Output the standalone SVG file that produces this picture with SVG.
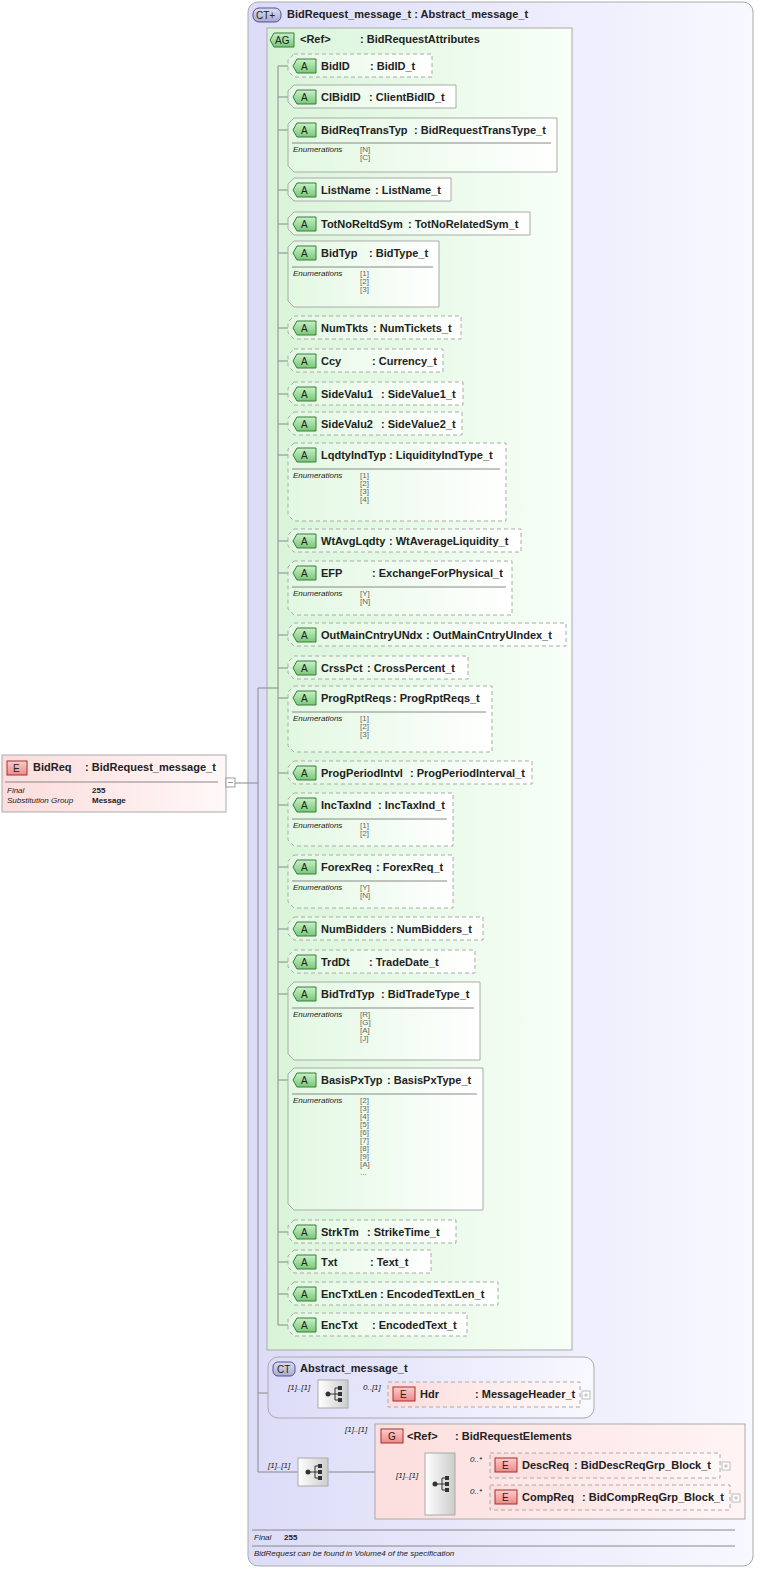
<svg xmlns="http://www.w3.org/2000/svg" width="761" height="1572" viewBox="0 0 761 1572">
<style>
text{font-family:"Liberation Sans",Arial,sans-serif;fill:#222}
.n{font-size:11px;font-weight:bold}
.s{font-size:8px;font-style:italic}
.v{font-size:8px;fill:#666}
.b{font-size:8px;font-weight:bold}
.at{fill:url(#gAt);stroke:#aaa;stroke-width:1}
.dash{stroke-dasharray:4,3;fill:url(#gAt)}
.sep{stroke:#888;stroke-width:1}
.ln{stroke:#888;stroke-width:1;fill:none}
.bdgA{fill:url(#gBA);stroke:#3a7a3a}
.bdgE{fill:url(#gBE);stroke:#a03030}
.bdgC{fill:url(#gBC);stroke:#5050a0}
.el{fill:url(#gEl);stroke:#aaa}
.seq{fill:url(#gSq);stroke:#aaa}
</style>
<defs>
<linearGradient id="gCT" x1="0" x2="1"><stop offset="0" stop-color="#dcdcf8"/><stop offset="1" stop-color="#f8f8ff"/></linearGradient>
<linearGradient id="gAG" x1="0" x2="1"><stop offset="0" stop-color="#d8f4d8"/><stop offset="1" stop-color="#f8fff8"/></linearGradient>
<linearGradient id="gAt" x1="0" x2="1"><stop offset="0" stop-color="#e2f8e2"/><stop offset="1" stop-color="#ffffff"/></linearGradient>
<linearGradient id="gEl" x1="0" x2="1"><stop offset="0" stop-color="#fcdcdc"/><stop offset="1" stop-color="#fff8f8"/></linearGradient>
<linearGradient id="gGr" x1="0" x2="1"><stop offset="0" stop-color="#fcdede"/><stop offset="1" stop-color="#fff4f4"/></linearGradient>
<linearGradient id="gBA" x1="0" x2="0" y1="0" y2="1"><stop offset="0" stop-color="#c8f0c8"/><stop offset="1" stop-color="#78c878"/></linearGradient>
<linearGradient id="gBE" x1="0" x2="0" y1="0" y2="1"><stop offset="0" stop-color="#fcc"/><stop offset="1" stop-color="#e88"/></linearGradient>
<linearGradient id="gBC" x1="0" x2="0" y1="0" y2="1"><stop offset="0" stop-color="#dde"/><stop offset="1" stop-color="#aac"/></linearGradient>
<linearGradient id="gSq" x1="0" x2="1"><stop offset="0" stop-color="#fff"/><stop offset="1" stop-color="#ccc"/></linearGradient>
<g id="seqI"><circle cx="7" cy="14" r="2.5" fill="#333"/><path d="M9 14H14M14 8V20M14 8H17M14 14H17M14 20H17" stroke="#333" fill="none"/><rect x="17" y="6" width="4" height="4" fill="#333"/><rect x="17" y="12" width="4" height="4" fill="#333"/><rect x="17" y="18" width="4" height="4" fill="#333"/></g>
</defs>

<g id="ct-main">
<rect x="248" y="2" width="505" height="1564" rx="10" fill="url(#gCT)" stroke="#aaa"/>
<rect x="253" y="8" width="28" height="14" rx="6" class="bdgC"/><text x="256" y="19" font-size="10">CT+</text>
<text x="287" y="18" class="n">BidRequest_message_t : Abstract_message_t</text>
<line x1="252" y1="1530" x2="735" y2="1530" class="sep"/>
<text x="254" y="1540" class="s">Final</text><text x="284" y="1540" class="b">255</text>
<line x1="252" y1="1546" x2="735" y2="1546" class="sep"/>
<text x="254" y="1556" class="s">BidRequest can be found in Volume4 of the specification</text>
</g>

<g id="ag">
<rect x="267" y="28" width="305" height="1322" fill="url(#gAG)" stroke="#aaa"/>
<path d="M274 33H294V47H274L270 40Z" class="bdgA"/><text x="275" y="44" font-size="10">AG</text>
<text x="300" y="43" class="n">&lt;Ref&gt;</text><text x="360" y="43" class="n">: BidRequestAttributes</text>
</g>

<g id="connectors" class="ln">
<line x1="235" y1="783" x2="258" y2="783"/>
<line x1="258" y1="688" x2="258" y2="1472"/>
<line x1="258" y1="688" x2="278" y2="688"/>
<line x1="278" y1="66" x2="278" y2="1325"/>
<path d="M278 66H288M278 97H288M278 130H288M278 190H288M278 224H288M278 253H288M278 328H288M278 361H288M278 394H288M278 424H288M278 455H288M278 541H288M278 573H288M278 635H288M278 668H288M278 698H288M278 773H288M278 805H288M278 867H288M278 929H288M278 962H288M278 994H288M278 1080H288M278 1232H288M278 1262H288M278 1294H288M278 1325H288"/>
<line x1="258" y1="1393" x2="318" y2="1393"/>
<line x1="348" y1="1393" x2="388" y2="1393"/>
<line x1="258" y1="1472" x2="298" y2="1472"/>
<line x1="328" y1="1472" x2="375" y2="1472"/>
<line x1="375" y1="1483" x2="425" y2="1483"/>
<line x1="455" y1="1466" x2="490" y2="1466"/>
<line x1="455" y1="1498" x2="490" y2="1498"/>
</g>

<g id="bidreq">
<rect x="2" y="755" width="224" height="57" class="el" fill="url(#gEl)"/>
<rect x="7" y="761" width="20" height="14" class="bdgE"/><text x="13" y="772" font-size="10">E</text>
<text x="33" y="771" class="n">BidReq</text><text x="85" y="771" class="n">: BidRequest_message_t</text>
<line x1="5" y1="782" x2="218" y2="782" class="sep"/>
<text x="7" y="793" class="s">Final</text><text x="92" y="793" class="b">255</text>
<text x="7" y="803" class="s">Substitution Group</text><text x="92" y="803" class="b">Message</text>
<rect x="226" y="778" width="9" height="9" fill="#fff" stroke="#999"/><line x1="228" y1="782.5" x2="233" y2="782.5" stroke="#999"/>
</g>

<g id="a1"><path d="M294 54H432V77H294L288 71V60Z" class="at dash"/><path d="M297 59H316V73H297L293 66Z" class="bdgA"/><text x="301" y="70" font-size="10">A</text><text x="321" y="70" class="n">BidID</text><text x="370" y="70" class="n">: BidID_t</text></g>
<g id="a2"><path d="M294 85H456V108H294L288 102V91Z" class="at"/><path d="M297 90H316V104H297L293 97Z" class="bdgA"/><text x="301" y="101" font-size="10">A</text><text x="321" y="101" class="n">ClBidID</text><text x="369" y="101" class="n">: ClientBidID_t</text></g>
<g id="a3"><path d="M294 118H557V172H294L288 166V124Z" class="at"/><path d="M297 123H316V137H297L293 130Z" class="bdgA"/><text x="301" y="134" font-size="10">A</text><text x="321" y="134" class="n">BidReqTransTyp</text><text x="414" y="134" class="n">: BidRequestTransType_t</text><line x1="292" y1="143" x2="551" y2="143" class="sep"/><text x="293" y="152" class="s">Enumerations</text><text x="360" y="152" class="v">[N]</text><text x="360" y="160" class="v">[C]</text></g>
<g id="a4"><path d="M294 178H451V201H294L288 195V184Z" class="at"/><path d="M297 183H316V197H297L293 190Z" class="bdgA"/><text x="301" y="194" font-size="10">A</text><text x="321" y="194" class="n">ListName</text><text x="375" y="194" class="n">: ListName_t</text></g>
<g id="a5"><path d="M294 212H530V235H294L288 229V218Z" class="at"/><path d="M297 217H316V231H297L293 224Z" class="bdgA"/><text x="301" y="228" font-size="10">A</text><text x="321" y="228" class="n">TotNoReltdSym</text><text x="408" y="228" class="n">: TotNoRelatedSym_t</text></g>
<g id="a6"><path d="M294 241H439V307H294L288 301V247Z" class="at"/><path d="M297 246H316V260H297L293 253Z" class="bdgA"/><text x="301" y="257" font-size="10">A</text><text x="321" y="257" class="n">BidTyp</text><text x="369" y="257" class="n">: BidType_t</text><line x1="292" y1="267" x2="433" y2="267" class="sep"/><text x="293" y="276" class="s">Enumerations</text><text x="360" y="276" class="v">[1]</text><text x="360" y="284" class="v">[2]</text><text x="360" y="292" class="v">[3]</text></g>
<g id="a7"><path d="M294 316H461V339H294L288 333V322Z" class="at dash"/><path d="M297 321H316V335H297L293 328Z" class="bdgA"/><text x="301" y="332" font-size="10">A</text><text x="321" y="332" class="n">NumTkts</text><text x="373" y="332" class="n">: NumTickets_t</text></g>
<g id="a8"><path d="M294 349H443V372H294L288 366V355Z" class="at dash"/><path d="M297 354H316V368H297L293 361Z" class="bdgA"/><text x="301" y="365" font-size="10">A</text><text x="321" y="365" class="n">Ccy</text><text x="372" y="365" class="n">: Currency_t</text></g>
<g id="a9"><path d="M294 382H463V405H294L288 399V388Z" class="at dash"/><path d="M297 387H316V401H297L293 394Z" class="bdgA"/><text x="301" y="398" font-size="10">A</text><text x="321" y="398" class="n">SideValu1</text><text x="381" y="398" class="n">: SideValue1_t</text></g>
<g id="a10"><path d="M294 412H462V435H294L288 429V418Z" class="at dash"/><path d="M297 417H316V431H297L293 424Z" class="bdgA"/><text x="301" y="428" font-size="10">A</text><text x="321" y="428" class="n">SideValu2</text><text x="381" y="428" class="n">: SideValue2_t</text></g>
<g id="a11"><path d="M294 443H506V521H294L288 515V449Z" class="at dash"/><path d="M297 448H316V462H297L293 455Z" class="bdgA"/><text x="301" y="459" font-size="10">A</text><text x="321" y="459" class="n">LqdtyIndTyp</text><text x="389" y="459" class="n">: LiquidityIndType_t</text><line x1="292" y1="469" x2="500" y2="469" class="sep"/><text x="293" y="478" class="s">Enumerations</text><text x="360" y="478" class="v">[1]</text><text x="360" y="486" class="v">[2]</text><text x="360" y="494" class="v">[3]</text><text x="360" y="502" class="v">[4]</text></g>
<g id="a12"><path d="M294 529H521V552H294L288 546V535Z" class="at dash"/><path d="M297 534H316V548H297L293 541Z" class="bdgA"/><text x="301" y="545" font-size="10">A</text><text x="321" y="545" class="n">WtAvgLqdty</text><text x="389" y="545" class="n">: WtAverageLiquidity_t</text></g>
<g id="a13"><path d="M294 561H512V615H294L288 609V567Z" class="at dash"/><path d="M297 566H316V580H297L293 573Z" class="bdgA"/><text x="301" y="577" font-size="10">A</text><text x="321" y="577" class="n">EFP</text><text x="372" y="577" class="n">: ExchangeForPhysical_t</text><line x1="292" y1="587" x2="506" y2="587" class="sep"/><text x="293" y="596" class="s">Enumerations</text><text x="360" y="596" class="v">[Y]</text><text x="360" y="604" class="v">[N]</text></g>
<g id="a14"><path d="M294 623H566V646H294L288 640V629Z" class="at dash"/><path d="M297 628H316V642H297L293 635Z" class="bdgA"/><text x="301" y="639" font-size="10">A</text><text x="321" y="639" class="n">OutMainCntryUNdx</text><text x="426" y="639" class="n">: OutMainCntryUIndex_t</text></g>
<g id="a15"><path d="M294 656H468V679H294L288 673V662Z" class="at dash"/><path d="M297 661H316V675H297L293 668Z" class="bdgA"/><text x="301" y="672" font-size="10">A</text><text x="321" y="672" class="n">CrssPct</text><text x="367" y="672" class="n">: CrossPercent_t</text></g>
<g id="a16"><path d="M294 686H492V752H294L288 746V692Z" class="at dash"/><path d="M297 691H316V705H297L293 698Z" class="bdgA"/><text x="301" y="702" font-size="10">A</text><text x="321" y="702" class="n">ProgRptReqs</text><text x="393" y="702" class="n">: ProgRptReqs_t</text><line x1="292" y1="712" x2="486" y2="712" class="sep"/><text x="293" y="721" class="s">Enumerations</text><text x="360" y="721" class="v">[1]</text><text x="360" y="729" class="v">[2]</text><text x="360" y="737" class="v">[3]</text></g>
<g id="a17"><path d="M294 761H532V784H294L288 778V767Z" class="at dash"/><path d="M297 766H316V780H297L293 773Z" class="bdgA"/><text x="301" y="777" font-size="10">A</text><text x="321" y="777" class="n">ProgPeriodIntvl</text><text x="410" y="777" class="n">: ProgPeriodInterval_t</text></g>
<g id="a18"><path d="M294 793H453V846H294L288 840V799Z" class="at dash"/><path d="M297 798H316V812H297L293 805Z" class="bdgA"/><text x="301" y="809" font-size="10">A</text><text x="321" y="809" class="n">IncTaxInd</text><text x="378" y="809" class="n">: IncTaxInd_t</text><line x1="292" y1="819" x2="447" y2="819" class="sep"/><text x="293" y="828" class="s">Enumerations</text><text x="360" y="828" class="v">[1]</text><text x="360" y="836" class="v">[2]</text></g>
<g id="a19"><path d="M294 855H453V908H294L288 902V861Z" class="at dash"/><path d="M297 860H316V874H297L293 867Z" class="bdgA"/><text x="301" y="871" font-size="10">A</text><text x="321" y="871" class="n">ForexReq</text><text x="376" y="871" class="n">: ForexReq_t</text><line x1="292" y1="881" x2="447" y2="881" class="sep"/><text x="293" y="890" class="s">Enumerations</text><text x="360" y="890" class="v">[Y]</text><text x="360" y="898" class="v">[N]</text></g>
<g id="a20"><path d="M294 917H483V940H294L288 934V923Z" class="at dash"/><path d="M297 922H316V936H297L293 929Z" class="bdgA"/><text x="301" y="933" font-size="10">A</text><text x="321" y="933" class="n">NumBidders</text><text x="390" y="933" class="n">: NumBidders_t</text></g>
<g id="a21"><path d="M294 950H475V973H294L288 967V956Z" class="at dash"/><path d="M297 955H316V969H297L293 962Z" class="bdgA"/><text x="301" y="966" font-size="10">A</text><text x="321" y="966" class="n">TrdDt</text><text x="369" y="966" class="n">: TradeDate_t</text></g>
<g id="a22"><path d="M294 982H480V1060H294L288 1054V988Z" class="at"/><path d="M297 987H316V1001H297L293 994Z" class="bdgA"/><text x="301" y="998" font-size="10">A</text><text x="321" y="998" class="n">BidTrdTyp</text><text x="381" y="998" class="n">: BidTradeType_t</text><line x1="292" y1="1008" x2="474" y2="1008" class="sep"/><text x="293" y="1017" class="s">Enumerations</text><text x="360" y="1017" class="v">[R]</text><text x="360" y="1025" class="v">[G]</text><text x="360" y="1033" class="v">[A]</text><text x="360" y="1041" class="v">[J]</text></g>
<g id="a23"><path d="M294 1068H483V1210H294L288 1204V1074Z" class="at"/><path d="M297 1073H316V1087H297L293 1080Z" class="bdgA"/><text x="301" y="1084" font-size="10">A</text><text x="321" y="1084" class="n">BasisPxTyp</text><text x="387" y="1084" class="n">: BasisPxType_t</text><line x1="292" y1="1094" x2="477" y2="1094" class="sep"/><text x="293" y="1103" class="s">Enumerations</text><text x="360" y="1103" class="v">[2]</text><text x="360" y="1111" class="v">[3]</text><text x="360" y="1119" class="v">[4]</text><text x="360" y="1127" class="v">[5]</text><text x="360" y="1135" class="v">[6]</text><text x="360" y="1143" class="v">[7]</text><text x="360" y="1151" class="v">[8]</text><text x="360" y="1159" class="v">[9]</text><text x="360" y="1167" class="v">[A]</text><text x="360" y="1175" class="v">...</text></g>
<g id="a24"><path d="M294 1220H456V1243H294L288 1237V1226Z" class="at dash"/><path d="M297 1225H316V1239H297L293 1232Z" class="bdgA"/><text x="301" y="1236" font-size="10">A</text><text x="321" y="1236" class="n">StrkTm</text><text x="367" y="1236" class="n">: StrikeTime_t</text></g>
<g id="a25"><path d="M294 1250H431V1273H294L288 1267V1256Z" class="at dash"/><path d="M297 1255H316V1269H297L293 1262Z" class="bdgA"/><text x="301" y="1266" font-size="10">A</text><text x="321" y="1266" class="n">Txt</text><text x="370" y="1266" class="n">: Text_t</text></g>
<g id="a26"><path d="M294 1282H498V1305H294L288 1299V1288Z" class="at dash"/><path d="M297 1287H316V1301H297L293 1294Z" class="bdgA"/><text x="301" y="1298" font-size="10">A</text><text x="321" y="1298" class="n">EncTxtLen</text><text x="380" y="1298" class="n">: EncodedTextLen_t</text></g>
<g id="a27"><path d="M294 1313H467V1336H294L288 1330V1319Z" class="at dash"/><path d="M297 1318H316V1332H297L293 1325Z" class="bdgA"/><text x="301" y="1329" font-size="10">A</text><text x="321" y="1329" class="n">EncTxt</text><text x="372" y="1329" class="n">: EncodedText_t</text></g>

<g id="ct-abstract">
<rect x="268" y="1357" width="326" height="61" rx="10" fill="url(#gCT)" stroke="#aaa"/>
<rect x="273" y="1362" width="22" height="14" rx="5" class="bdgC"/><text x="277" y="1373" font-size="10">CT</text>
<text x="300" y="1372" class="n">Abstract_message_t</text>
<text x="288" y="1390" class="s">[1]..[1]</text>
<rect x="318" y="1380" width="30" height="28" class="seq"/><use href="#seqI" x="321" y="1380"/>
<text x="363" y="1390" class="s">0..[1]</text>
</g>
<g id="hdr">
<rect x="388" y="1382" width="192" height="25" fill="url(#gEl)" stroke="#aaa" stroke-dasharray="4,3"/>
<rect x="393" y="1387" width="22" height="14" class="bdgE"/><text x="400" y="1398" font-size="10">E</text>
<text x="420" y="1398" class="n">Hdr</text><text x="475" y="1398" class="n">: MessageHeader_t</text>
<rect x="582" y="1391" width="8" height="8" fill="#fff" stroke="#bbb"/><path d="M584 1395H588M586 1393V1397" stroke="#bbb"/>
</g>

<g id="seq-outer">
<text x="268" y="1468" class="s">[1]..[1]</text>
<rect x="298" y="1458" width="30" height="28" class="seq"/><use href="#seqI" x="301" y="1458"/>
</g>
<g id="grp">
<text x="345" y="1432" class="s">[1]..[1]</text>
<rect x="375" y="1424" width="370" height="95" fill="url(#gGr)" stroke="#aaa"/>
<rect x="381" y="1429" width="22" height="14" class="bdgE"/><text x="388" y="1440" font-size="10">G</text>
<text x="407" y="1440" class="n">&lt;Ref&gt;</text><text x="455" y="1440" class="n">: BidRequestElements</text>
<text x="396" y="1478" class="s">[1]..[1]</text>
<rect x="425" y="1453" width="30" height="62" class="seq"/><use href="#seqI" x="428" y="1470"/>
<text x="470" y="1462" class="s">0..*</text><text x="470" y="1494" class="s">0..*</text>
</g>
<g id="descreq">
<rect x="490" y="1453" width="230" height="25" fill="url(#gEl)" stroke="#aaa" stroke-dasharray="4,3"/>
<rect x="495" y="1458" width="22" height="14" class="bdgE"/><text x="502" y="1469" font-size="10">E</text>
<text x="522" y="1469" class="n">DescReq</text><text x="574" y="1469" class="n">: BidDescReqGrp_Block_t</text>
<rect x="722" y="1462" width="8" height="8" fill="#fff" stroke="#bbb"/><path d="M724 1466H728M726 1464V1468" stroke="#bbb"/>
</g>
<g id="compreq">
<rect x="490" y="1485" width="240" height="25" fill="url(#gEl)" stroke="#aaa" stroke-dasharray="4,3"/>
<rect x="495" y="1490" width="22" height="14" class="bdgE"/><text x="502" y="1501" font-size="10">E</text>
<text x="522" y="1501" class="n">CompReq</text><text x="582" y="1501" class="n">: BidCompReqGrp_Block_t</text>
<rect x="732" y="1494" width="8" height="8" fill="#fff" stroke="#bbb"/><path d="M734 1498H738M736 1496V1500" stroke="#bbb"/>
</g>
</svg>
